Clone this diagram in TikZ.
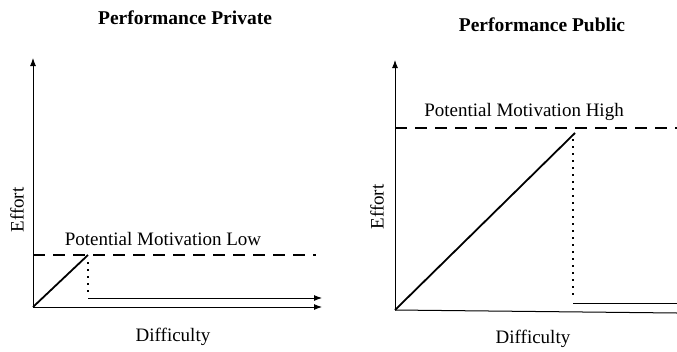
\documentclass[tikz,border=0pt]{standalone}
\usepackage{fontspec}
\setmainfont{Liberation Serif}
\usetikzlibrary{arrows.meta}
\begin{document}
\begin{tikzpicture}[x=1pt,y=-1pt,
  axis/.style={line width=0.9pt,-{Latex[length=8pt,width=6pt]}},
  plainaxis/.style={line width=1pt},
  ramp/.style={line width=1.8pt},
  limit/.style={line width=1.2pt,dash pattern=on 12pt off 8pt},
  drop/.style={line width=2.2pt,dash pattern=on 2pt off 5pt},
  lbl/.style={font=\fontsize{19}{22}\selectfont,inner sep=0pt},
  ttl/.style={font=\fontsize{19.5}{22}\selectfont\bfseries,inner sep=0pt}]
\useasboundingbox (0,0) rectangle (677,351);
% left panel
\coordinate (lo) at (33,307);
\coordinate (ltop) at (33,58);
\coordinate (lxend) at (322,307);
\coordinate (ldl) at (33,255);
\coordinate (ldr) at (316,255);
\coordinate (lpk) at (88,255);
\coordinate (ldt) at (88,262);
\coordinate (ldb) at (88,294);
\coordinate (lls) at (88,298);
\coordinate (lle) at (322,298);
\draw[axis] (lo) -- (ltop);
\draw[axis] (lo) -- (lxend);
\draw[limit] (ldl) -- (ldr);
\draw[ramp] (lo) -- (lpk);
\draw[drop] (ldt) -- (ldb);
\draw[axis] (lls) -- (lle);
\node[ttl] (lt) at (185,18) {Performance Private};
\node[lbl] (lm) at (163,239) {Potential Motivation Low};
\node[lbl,rotate=90] (le) at (17,210) {Effort};
\node[lbl] (ld) at (173,337) {Difficulty};
% right panel
\coordinate (ro) at (395,310);
\coordinate (rtop) at (395,60);
\coordinate (rxend) at (677,313);
\coordinate (rdl) at (395,128);
\coordinate (rdr) at (677,128);
\coordinate (rpk) at (575,133);
\coordinate (rdt) at (573,139);
\coordinate (rdb) at (573,299);
\coordinate (rls) at (573,303);
\coordinate (rle) at (677,303);
\draw[axis] (ro) -- (rtop);
\draw[plainaxis] (ro) -- (rxend);
\draw[limit] (rdl) -- (rdr);
\draw[ramp] (ro) -- (rpk);
\draw[drop] (rdt) -- (rdb);
\draw[plainaxis] (rls) -- (rle);
\node[ttl] (rt) at (542,25) {Performance Public};
\node[lbl] (rm) at (524,112) {Potential Motivation High};
\node[lbl,rotate=90] (re) at (377,207) {Effort};
\node[lbl] (rd) at (533,339) {Difficulty};
\end{tikzpicture}
\end{document}
